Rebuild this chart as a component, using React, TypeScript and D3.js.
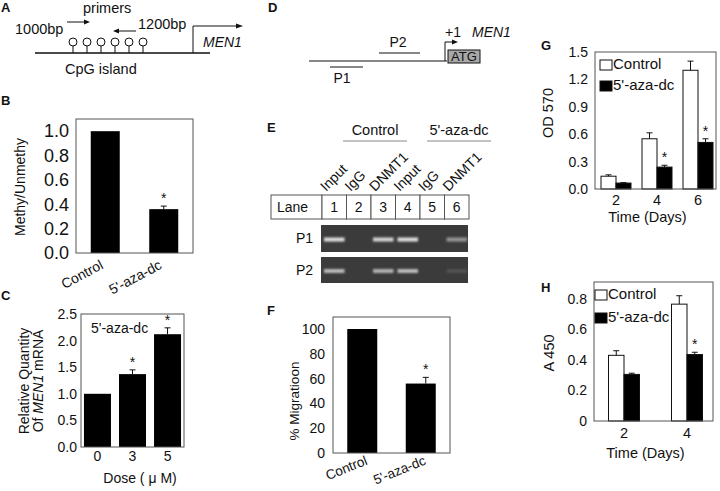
import React from 'react';
import * as d3 from 'd3';

const FONT = 'Arial, "Liberation Sans", Helvetica, sans-serif';
const FRAME = '#555';

// panel A: CpG sites in the promoter
const cpgSites = [1, 2, 3, 4, 5, 6];

// panel B: methylation ratio
const bGroups = ['Control', "5'-aza-dc"];
const bValues = [1.0, 0.36];
const bErrors = [0, 0.025];
const bStars = [false, true];
const bTicks = [0, 0.2, 0.4, 0.6, 0.8, 1.0];

// panel C: MEN1 mRNA vs dose
const cDoses = ['0', '3', '5'];
const cValues = [1.0, 1.37, 2.12];
const cErrors = [0, 0.08, 0.12];
const cStars = [false, true, true];
const cTicks = [0, 0.5, 1, 1.5, 2, 2.5];

// panel E: ChIP gel
const laneNumbers = ['1', '2', '3', '4', '5', '6'];
const laneAntibodies = ['Input', 'IgG', 'DNMT1', 'Input', 'IgG', 'DNMT1'];
const treatmentGroups = ['Control', "5'-aza-dc"];
const p1Bands = [0.9, 0, 0.85, 0.9, 0, 0.5];
const p2Bands = [0.7, 0, 0.65, 0.7, 0, 0.12];

// panel F: migration
const fGroups = ['Control', "5'-aza-dc"];
const fValues = [100, 56];
const fErrors = [0, 5];
const fStars = [false, true];
const fTicks = [0, 20, 40, 60, 80, 100];

// panel G: OD 570
const gDays = ['2', '4', '6'];
const gControl = [0.14, 0.55, 1.3];
const gControlErr = [0.015, 0.065, 0.1];
const gAza = [0.065, 0.24, 0.51];
const gAzaErr = [0.005, 0.02, 0.04];
const gStars = [false, true, true];
const gTicks = [0, 0.3, 0.6, 0.9, 1.2, 1.5];

// panel H: A 450
const hDays = ['2', '4'];
const hControl = [0.43, 0.765];
const hControlErr = [0.03, 0.055];
const hAza = [0.305, 0.435];
const hAzaErr = [0.008, 0.015];
const hStars = [false, true];
const hTicks = [0, 0.2, 0.4, 0.6, 0.8];

const T = (p: any) => <text fontFamily={FONT} fill="#111" {...p} />;

const Letter = ({ x, y, c }: any) => (
  <T x={x} y={y} fontSize={13} fontWeight="bold">{c}</T>
);

const Frame = ({ x0, x1, y0, y1 }: any) => (
  <rect x={x0} y={y0} width={x1 - x0} height={y1 - y0} fill="none" stroke={FRAME} strokeWidth={1} />
);

const YTickLabels = ({ ticks, y, x, fmt, size = 14 }: any) => (
  <g>
    {ticks.map((t: number) => (
      <T key={t} x={x} y={y(t)} dy="0.35em" textAnchor="end" fontSize={size}>{fmt(t)}</T>
    ))}
  </g>
);

const ErrorBar = ({ cx, y, v, e, star }: any) => (
  <g>
    {e > 0 && (
      <g stroke="#111" strokeWidth={1}>
        <line x1={cx} x2={cx} y1={y(v)} y2={y(v + e)} />
        <line x1={cx - 3} x2={cx + 3} y1={y(v + e)} y2={y(v + e)} />
      </g>
    )}
    {star && (
      <T x={cx} y={y(v + e) - 3} textAnchor="middle" fontSize={14}>*</T>
    )}
  </g>
);

const YLabel = ({ x, y, children, size = 14 }: any) => (
  <T transform={`translate(${x},${y}) rotate(-90)`} textAnchor="middle" fontSize={size}>{children}</T>
);

function PanelA() {
  const sx = d3.scalePoint<number>().domain(cpgSites).range([73, 143]);
  return (
    <g>
      <Letter x={1} y={12} c="A" />
      <T x={83} y={13} fontSize={14.5}>primers</T>
      <line x1={67} x2={88} y1={22} y2={22} stroke="#111" />
      <path d="M90,22 L84,19.5 L84,24.5 Z" fill="#111" />
      <line x1={136} x2={115} y1={31} y2={31} stroke="#111" />
      <path d="M113,31 L119,28.5 L119,33.5 Z" fill="#111" />
      <T x={15} y={34} fontSize={14.5}>1000bp</T>
      <T x={138} y={29} fontSize={14.5}>1200bp</T>
      <line x1={35} x2={210} y1={53} y2={53} stroke="#111" strokeWidth={1.5} />
      {cpgSites.map((s) => (
        <g key={s}>
          <line x1={sx(s)} x2={sx(s)} y1={46} y2={53} stroke="#111" />
          <circle cx={sx(s)} cy={42} r={4} fill="#fff" stroke="#111" />
        </g>
      ))}
      <path d="M193,53 L193,26 L238,26" fill="none" stroke="#111" />
      <path d="M243,26 L236,23.5 L236,28.5 Z" fill="#111" />
      <T x={203} y={47} fontSize={14} fontStyle="italic">MEN1</T>
      <T x={65} y={74} fontSize={14.5}>CpG island</T>
    </g>
  );
}

function PanelB() {
  const y = d3.scaleLinear().domain([0, 1.1]).range([253, 119]);
  const x = d3.scalePoint().domain(bGroups).range([76, 193]).padding(0.5);
  const w = 29;
  return (
    <g>
      <Letter x={1} y={105} c="B" />
      {bGroups.map((g, i) => (
        <rect key={g} x={x(g)! - w / 2} y={y(bValues[i])} width={w} height={y(0) - y(bValues[i])} fill="#000" />
      ))}
      {bGroups.map((g, i) => (
        <ErrorBar key={g} cx={x(g)} y={y} v={bValues[i]} e={bErrors[i]} star={bStars[i]} />
      ))}
      <Frame x0={76} x1={193} y0={119} y1={253} />
      <YTickLabels ticks={bTicks} y={y} x={69} fmt={d3.format('.1f')} size={18} />
      <YLabel x={25} y={187} size={14}>Methy/Unmethy</YLabel>
      {bGroups.map((g) => (
        <T key={g} transform={`translate(${x(g)! - 1},${268}) rotate(-28)`} textAnchor="end" fontSize={14}>{g}</T>
      ))}
    </g>
  );
}

function PanelC() {
  const y = d3.scaleLinear().domain([0, 2.5]).range([447, 314]);
  const x = d3.scalePoint().domain(cDoses).range([81, 184]).padding(0.47);
  const w = 27;
  return (
    <g>
      <Letter x={1} y={300} c="C" />
      {cDoses.map((d, i) => (
        <rect key={d} x={x(d)! - w / 2} y={y(cValues[i])} width={w} height={y(0) - y(cValues[i])} fill="#000" />
      ))}
      {cDoses.map((d, i) => (
        <ErrorBar key={d} cx={x(d)} y={y} v={cValues[i]} e={cErrors[i]} star={cStars[i]} />
      ))}
      <Frame x0={81} x1={184} y0={314} y1={447} />
      <T x={91} y={333} fontSize={14}>5'-aza-dc</T>
      <YTickLabels ticks={cTicks} y={y} x={77} fmt={d3.format('.1f')} size={14} />
      <YLabel x={29} y={381} size={14}>Relative Quantity</YLabel>
      <T transform="translate(43,381) rotate(-90)" textAnchor="middle" fontSize={14}>
        Of <tspan fontStyle="italic">MEN1</tspan> mRNA
      </T>
      {cDoses.map((d) => (
        <T key={d} x={x(d)} y={461} textAnchor="middle" fontSize={14}>{d}</T>
      ))}
      <T x={140} y={483} textAnchor="middle" fontSize={14}>Dose ( μ M)</T>
    </g>
  );
}

function PanelD() {
  return (
    <g>
      <Letter x={268} y={12} c="D" />
      <line x1={309} x2={447} y1={61} y2={61} stroke="#111" strokeWidth={1.2} />
      <line x1={330} x2={363} y1={67} y2={67} stroke="#111" strokeWidth={1.2} />
      <T x={342} y={83} textAnchor="middle" fontSize={14}>P1</T>
      <line x1={379} x2={420} y1={53} y2={53} stroke="#111" strokeWidth={1.2} />
      <T x={398} y={47} textAnchor="middle" fontSize={14}>P2</T>
      <path d="M445,61 L445,42 L453,42" fill="none" stroke="#111" />
      <path d="M458,42 L452,39.5 L452,44.5 Z" fill="#111" />
      <rect x={448} y={50} width={32} height={13} fill="#a8a8a8" stroke="#111" />
      <T x={464} y={61} textAnchor="middle" fontSize={13}>ATG</T>
      <T x={445} y={37} fontSize={14}>+1</T>
      <T x={472} y={37} fontSize={14} fontStyle="italic">MEN1</T>
    </g>
  );
}

function PanelE() {
  const lane = d3.scaleBand().domain(laneNumbers).range([322, 469]);
  const head = d3.scalePoint().domain(treatmentGroups).range([375, 459]);
  const bands = [
    { name: 'P1', vals: p1Bands, y0: 225, y1: 252 },
    { name: 'P2', vals: p2Bands, y0: 257, y1: 283 },
  ];
  return (
    <g>
      <defs>
        <filter id="blur" x="-20%" y="-100%" width="140%" height="300%">
          <feGaussianBlur stdDeviation="1.1" />
        </filter>
      </defs>
      <Letter x={267} y={132} c="E" />
      {treatmentGroups.map((g) => (
        <g key={g}>
          <T x={head(g)} y={135} textAnchor="middle" fontSize={14.5}>{g}</T>
          <line x1={head(g)! - 32} x2={head(g)! + 32} y1={141} y2={141} stroke="#888" strokeWidth={1} />
        </g>
      ))}
      {laneNumbers.map((l, i) => (
        <T key={l} transform={`translate(${lane(l)! + 4},${192}) rotate(-45)`} fontSize={14}>{laneAntibodies[i]}</T>
      ))}
      <rect x={271} y={195} width={51} height={24} fill="#fff" stroke={FRAME} />
      <T x={277} y={212} fontSize={14}>Lane</T>
      {laneNumbers.map((l) => (
        <g key={l}>
          <rect x={lane(l)} y={195} width={lane.bandwidth()} height={24} fill="#fff" stroke={FRAME} />
          <T x={lane(l)! + lane.bandwidth() / 2} y={212} textAnchor="middle" fontSize={14}>{l}</T>
        </g>
      ))}
      {bands.map((b) => (
        <g key={b.name}>
          <T x={296} y={(b.y0 + b.y1) / 2} dy="0.35em" fontSize={14}>{b.name}</T>
          <rect x={321} y={b.y0} width={147} height={b.y1 - b.y0} fill="#3b3b3b" />
          {laneNumbers.map((l, i) =>
            b.vals[i] > 0 ? (
              <rect key={l} x={lane(l)! + 2} y={(b.y0 + b.y1) / 2 - 1} width={lane.bandwidth() - 4} height={4}
                fill="#f2f2f2" opacity={b.vals[i]} filter="url(#blur)" />
            ) : null
          )}
        </g>
      ))}
    </g>
  );
}

function PanelF() {
  const y = d3.scaleLinear().domain([0, 110]).range([453, 316.6]);
  const x = d3.scalePoint().domain(fGroups).range([333, 450]).padding(0.5);
  const w = 30;
  return (
    <g>
      <Letter x={267} y={315} c="F" />
      {fGroups.map((g, i) => (
        <rect key={g} x={x(g)! - w / 2} y={y(fValues[i])} width={w} height={y(0) - y(fValues[i])} fill="#000" />
      ))}
      {fGroups.map((g, i) => (
        <ErrorBar key={g} cx={x(g)! + 5} y={y} v={fValues[i]} e={fErrors[i]} star={fStars[i]} />
      ))}
      <Frame x0={333} x1={450} y0={317} y1={453} />
      <YTickLabels ticks={fTicks} y={y} x={325} fmt={d3.format('d')} size={14} />
      <YLabel x={299} y={401} size={13.5}>% Migratioon</YLabel>
      {fGroups.map((g) => (
        <T key={g} transform={`translate(${x(g)! + 6},${464}) rotate(-22)`} textAnchor="end" fontSize={13.5}>{g}</T>
      ))}
    </g>
  );
}

function GroupedPanel({ letter, ly, days, ctrl, ctrlErr, aza, azaErr, stars, ticks, fmt, y, xRange, frame, w,
  yLabel, yLabelPos, tickX, dayY, titleY, legend }: any) {
  const x = d3.scalePoint().domain(days).range(xRange);
  return (
    <g>
      <Letter x={541} y={ly} c={letter} />
      {days.map((d: string, i: number) => (
        <g key={d}>
          <rect x={x(d)! - w} y={y(ctrl[i])} width={w} height={y(0) - y(ctrl[i])} fill="#fff" stroke="#111" />
          <rect x={x(d)!} y={y(aza[i])} width={w} height={y(0) - y(aza[i])} fill="#000" stroke="#111" />
          <ErrorBar cx={x(d)! - w / 2} y={y} v={ctrl[i]} e={ctrlErr[i]} star={false} />
          <ErrorBar cx={x(d)! + w / 2} y={y} v={aza[i]} e={azaErr[i]} star={stars[i]} />
        </g>
      ))}
      <Frame {...frame} />
      <YTickLabels ticks={ticks} y={y} x={tickX} fmt={fmt} size={14} />
      <YLabel x={yLabelPos[0]} y={yLabelPos[1]} size={14.5}>{yLabel}</YLabel>
      {days.map((d: string) => (
        <T key={d} x={x(d)} y={dayY} textAnchor="middle" fontSize={14.5}>{d}</T>
      ))}
      <T x={(frame.x0 + frame.x1) / 2 - 8} y={titleY} textAnchor="middle" fontSize={14.5}>Time (Days)</T>
      {legend.map((l: any) => (
        <g key={l.label}>
          <rect x={l.x} y={l.y} width={12} height={10} fill={l.fill} stroke="#111" />
          <T x={l.x + 13} y={l.y + 9} fontSize={15}>{l.label}</T>
        </g>
      ))}
    </g>
  );
}

export default function App() {
  const gY = d3.scaleLinear().domain([0, 1.5]).range([189, 52]);
  const hY = d3.scaleLinear().domain([0, 0.91]).range([421, 282]);
  return (
    <svg width={720} height={491} style={{ position: 'absolute', left: 0, top: 0, background: '#fff' }}>
      <rect width={720} height={491} fill="#fff" />
      <PanelA />
      <PanelB />
      <PanelC />
      <PanelD />
      <PanelE />
      <PanelF />
      <GroupedPanel letter="G" ly={50} days={gDays} ctrl={gControl} ctrlErr={gControlErr} aza={gAza} azaErr={gAzaErr}
        stars={gStars} ticks={gTicks} fmt={d3.format('.1f')} y={gY} xRange={[616, 698]} w={15}
        frame={{ x0: 595, x1: 716, y0: 52, y1: 189 }} yLabel="OD 570" yLabelPos={[553, 113]} tickX={588}
        dayY={205} titleY={222}
        legend={[{ label: 'Control', fill: '#fff', x: 600, y: 60 }, { label: "5'-aza-dc", fill: '#000', x: 600, y: 81 }]} />
      <GroupedPanel letter="H" ly={292} days={hDays} ctrl={hControl} ctrlErr={hControlErr} aza={hAza} azaErr={hAzaErr}
        stars={hStars} ticks={hTicks} fmt={(t: number) => (t === 0 ? '0' : d3.format('.1f')(t))} y={hY}
        xRange={[624, 687]} w={15.5}
        frame={{ x0: 594, x1: 713, y0: 282, y1: 421 }} yLabel="A 450" yLabelPos={[554, 353]} tickX={587}
        dayY={438} titleY={458}
        legend={[{ label: 'Control', fill: '#fff', x: 595, y: 290 }, { label: "5'-aza-dc", fill: '#000', x: 595, y: 313 }]} />
    </svg>
  );
}
